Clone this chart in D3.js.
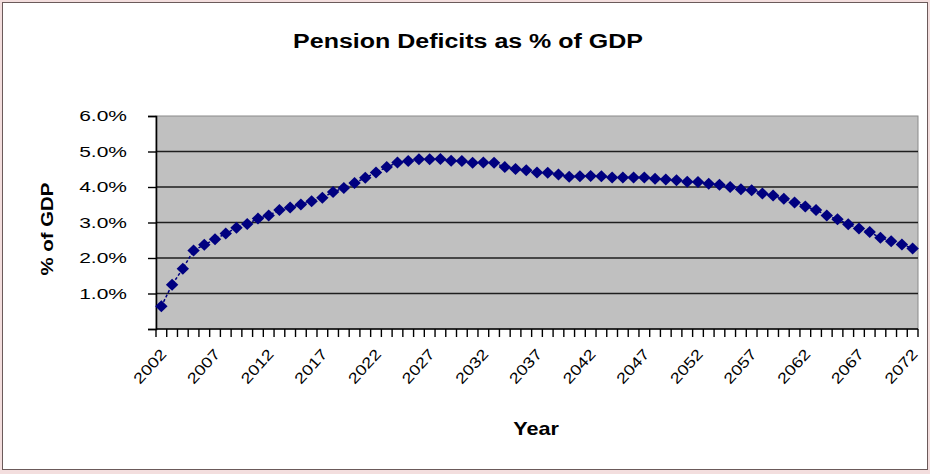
<!DOCTYPE html>
<html>
<head>
<meta charset="utf-8">
<script src="https://cdn.jsdelivr.net/npm/d3@7/dist/d3.min.js"></script>
<style>
  html, body { margin: 0; padding: 0; background: #f3dede; }
  svg { display: block; }
  text { font-family: "Liberation Sans", Arial, sans-serif; }
</style>
</head>
<body>
<svg id="chart" width="930" height="474"></svg>
<script>
// Pension deficit projection, share of GDP (%), one value per year 2002-2072
const years = d3.range(2002, 2073);
const deficitPct = [
  0.64, 1.25, 1.70, 2.21, 2.37, 2.53, 2.69, 2.85, 2.96, 3.11,
  3.20, 3.35, 3.42, 3.51, 3.60, 3.70, 3.86, 3.97, 4.11, 4.26,
  4.41, 4.56, 4.69, 4.73, 4.78, 4.78, 4.79, 4.74, 4.73, 4.68,
  4.69, 4.68, 4.56, 4.51, 4.47, 4.41, 4.40, 4.35, 4.29, 4.30,
  4.31, 4.30, 4.27, 4.27, 4.27, 4.27, 4.23, 4.21, 4.19, 4.15,
  4.14, 4.09, 4.06, 4.00, 3.94, 3.91, 3.82, 3.76, 3.67, 3.56,
  3.45, 3.35, 3.20, 3.09, 2.95, 2.83, 2.73, 2.57, 2.47, 2.38,
  2.27
];
const yTicks = [0, 1, 2, 3, 4, 5, 6];
const yTickLabels = ["", "1.0%", "2.0%", "3.0%", "4.0%", "5.0%", "6.0%"];
const xLabelYears = d3.range(2002, 2073, 5);

const svg = d3.select("#chart");
const W = 930, H = 474;
const plot = { left: 156, right: 918, top: 116, bottom: 329 };

// chart area frame
svg.append("rect")
  .attr("x", 2.5).attr("y", 2.5).attr("width", W - 5).attr("height", H - 7)
  .attr("fill", "#ffffff").attr("stroke", "#6b5a5a").attr("stroke-width", 1);

const x = d3.scaleBand().domain(years).range([plot.left, plot.right]).paddingInner(0).paddingOuter(0);
const y = d3.scaleLinear().domain([0, 6]).range([plot.bottom, plot.top]);
const cx = d => x(d) + x.bandwidth() / 2;

// plot background
svg.append("rect")
  .attr("x", plot.left).attr("y", plot.top)
  .attr("width", plot.right - plot.left).attr("height", plot.bottom - plot.top)
  .attr("fill", "#c0c0c0").attr("stroke", "#8a8a8a").attr("stroke-width", 1);

// horizontal gridlines
svg.append("g").selectAll("line")
  .data(yTicks.filter(t => t > 0 && t < 6))
  .join("line")
  .attr("x1", plot.left).attr("x2", plot.right)
  .attr("y1", d => y(d)).attr("y2", d => y(d))
  .attr("stroke", "#1e1e1e").attr("stroke-width", 1.6);

// y axis
const yAxis = d3.axisLeft(y).tickValues(yTicks).tickSize(8).tickPadding(21)
  .tickFormat((d, i) => yTickLabels[i]);
const gy = svg.append("g").attr("transform", `translate(${plot.left},0)`).call(yAxis);
gy.select(".domain").attr("stroke", "#000").attr("stroke-width", 1.6);
gy.selectAll(".tick line").attr("stroke", "#000").attr("stroke-width", 1.4);
gy.selectAll(".tick text")
  .attr("font-size", 15).attr("fill", "#000")
  .each(function () {
    // lettering on this chart is drawn horizontally widened
    const t = d3.select(this);
    const xx = +t.attr("x");
    t.attr("x", null).attr("transform", `translate(${xx},0) scale(1.4,1)`);
  });

// x axis: ticks between categories
const xTickPos = years.map(d => x(d)).concat([plot.right]);
const gx = svg.append("g");
gx.append("line")
  .attr("x1", plot.left).attr("x2", plot.right)
  .attr("y1", plot.bottom).attr("y2", plot.bottom)
  .attr("stroke", "#000").attr("stroke-width", 1.6);
gx.selectAll("line.tk").data(xTickPos).join("line").attr("class", "tk")
  .attr("x1", d => d).attr("x2", d => d)
  .attr("y1", plot.bottom).attr("y2", plot.bottom + 8)
  .attr("stroke", "#000").attr("stroke-width", 1.4);
gx.selectAll("text").data(xLabelYears).join("text")
  .attr("transform", d => `translate(${cx(d) + 3},${plot.bottom + 23}) rotate(-48) scale(1.22,1)`)
  .attr("text-anchor", "end")
  .attr("dominant-baseline", "middle")
  .attr("font-size", 15).attr("fill", "#000")
  .text(d => d);

// series line and diamond markers
const line = d3.line().x((d, i) => cx(years[i])).y(d => y(d));
svg.append("path")
  .datum(deficitPct)
  .attr("d", line)
  .attr("fill", "none").attr("stroke", "#000080")
  .attr("stroke-width", 1.5).attr("stroke-dasharray", "3,2");

svg.append("g").selectAll("path")
  .data(deficitPct)
  .join("path")
  .attr("transform", (d, i) => `translate(${cx(years[i])},${y(d)})`)
  .attr("d", "M0,-6L6.2,0L0,6L-6.2,0Z")
  .attr("fill", "#000080");

// titles
svg.append("text")
  .attr("transform", `translate(468,48) scale(1.25,1)`)
  .attr("text-anchor", "middle")
  .attr("font-size", 20).attr("font-weight", "bold").attr("fill", "#000")
  .text("Pension Deficits as % of GDP");

svg.append("text")
  .attr("transform", `translate(53,229) rotate(-90) scale(1.2,1)`)
  .attr("text-anchor", "middle")
  .attr("font-size", 17).attr("font-weight", "bold").attr("fill", "#000")
  .text("% of GDP");

svg.append("text")
  .attr("transform", `translate(536,435) scale(1.2,1)`)
  .attr("text-anchor", "middle")
  .attr("font-size", 18).attr("font-weight", "bold").attr("fill", "#000")
  .text("Year");
</script>
</body>
</html>
